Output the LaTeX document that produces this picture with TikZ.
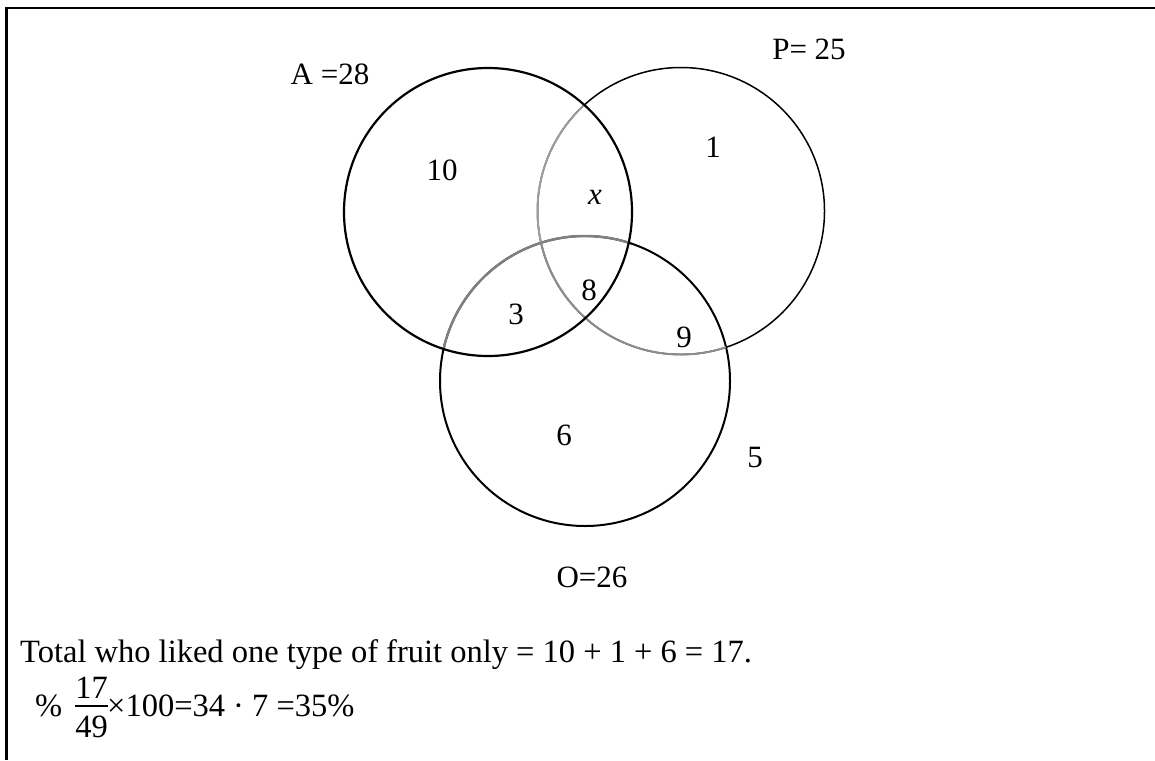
\documentclass[tikz,border=0pt]{standalone}
\usepackage{fontspec}
\setmainfont{Liberation Serif}
\begin{document}
\begin{tikzpicture}[x=1pt,y=-1pt,
  lbl/.style={inner sep=0pt, font=\fontsize{31}{37}\selectfont},
  txt/.style={inner sep=0pt, anchor=base west, font=\fontsize{32.5}{39}\selectfont},
  frac/.style={inner sep=0pt, font=\fontsize{32.5}{39}\selectfont},
  blk/.style={draw=black}]
\useasboundingbox (0,0) rectangle (1155,760);
\fill[white] (0,0) rectangle (1155,760);
% frame
\draw[line width=2.6pt] (6.5,760) -- (6.5,8) -- (1155,8);
% centres
\coordinate (cA) at (488,212);
\coordinate (cP) at (681,211);
\coordinate (cO) at (585,381);
% black circles P and O
\draw[blk, line width=1.5pt] (cP) circle[radius=143.5];
\draw[blk, line width=2pt] (cO) circle[radius=145];
% grey parts inside A
\begin{scope}
  \clip (cA) circle[radius=144];
  \draw[draw=black!38, line width=1.9pt] (cP) circle[radius=143.5];
  \draw[draw=black!50, line width=2.4pt] (cO) circle[radius=145];
\end{scope}
% grey part of P inside O
\begin{scope}
  \clip (cO) circle[radius=145];
  \draw[draw=black!45, line width=1.9pt] (cP) circle[radius=143.5];
\end{scope}
% A on top
\draw[blk, line width=2.2pt] (cA) circle[radius=144];
% labels
\node[lbl] (lA) at (330,74) {A =28};
\node[lbl] (lP) at (809,49) {P= 25};
\node[lbl] (n10) at (442,170) {10};
\node[lbl] (n1) at (713,147) {1};
\node[lbl] (nx) at (595,197) {\textit{x}};
\node[lbl] (n8) at (589,290) {8};
\node[lbl] (n3) at (516,314) {3};
\node[lbl] (n9) at (684,337) {9};
\node[lbl] (n6) at (564,435) {6};
\node[lbl] (n5) at (755,457) {5};
\node[lbl] (lO) at (592,577) {O=26};
% bottom text
\node[txt] (t1) at (20,662) {Total who liked one type of fruit only = 10 + 1 + 6 = 17.};
\node[txt] (pct) at (35,716) {\%};
\node[frac] (num) at (91.5,688) {17};
\node[frac] (den) at (91.5,727) {49};
\draw[line width=1.2pt] (75,706) -- (108,706);
\node[txt] (rest) at (107,716) {×100=34 · 7 =35\%};
\end{tikzpicture}
\end{document}
